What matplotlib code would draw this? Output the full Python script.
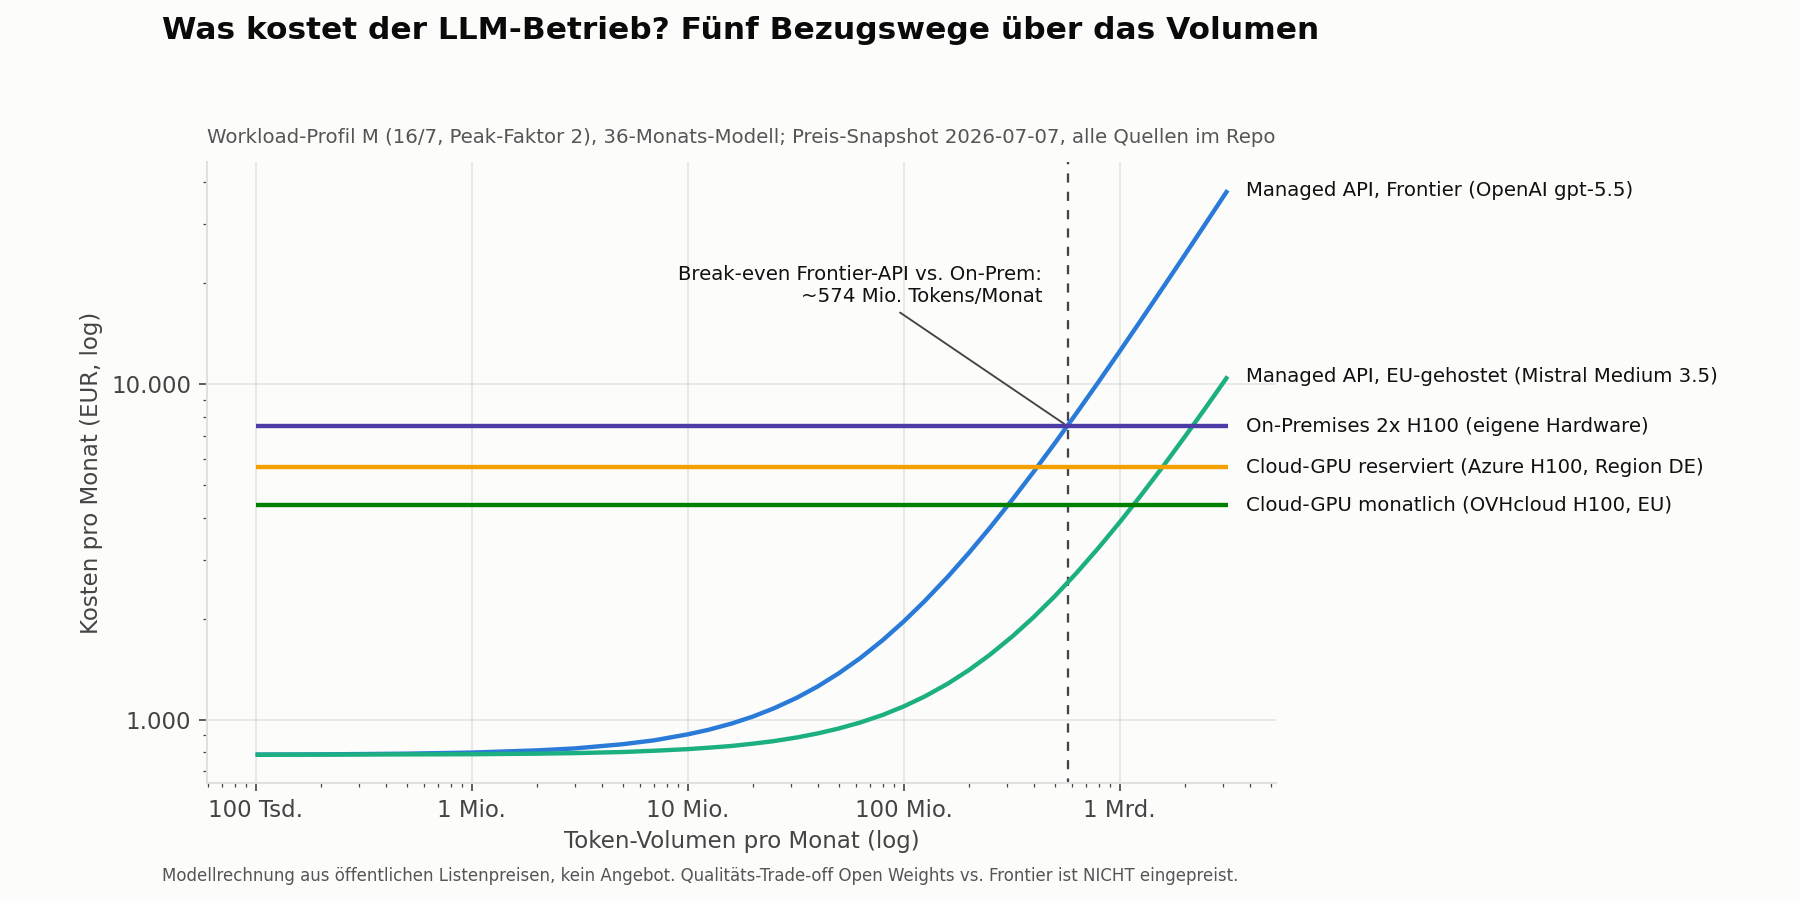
"""Kostenvergleich LLM-Betrieb: fuenf Bezugswege ueber das Token-Volumen."""

import matplotlib

matplotlib.use("Agg")

import matplotlib.pyplot as plt
from matplotlib.ticker import FixedLocator, FuncFormatter, LogLocator, NullFormatter

# Token-Volumen pro Monat in Mio. (Stuetzstellen der Kurven)
volumes_mio = [
    0.1, 0.2, 0.5, 1, 2, 3, 5, 7,
    10, 12.5, 16, 20, 25, 32, 40, 50, 63, 80,
    100, 125, 160, 200, 250, 320, 400, 500, 630, 800,
    1000, 1250, 1600, 2000, 2500, 3160,
]

# Kosten pro Monat in EUR
frontier_api = [
    786, 787, 791, 797, 809, 820, 844, 867,
    903, 932, 973, 1020, 1079, 1161, 1255, 1373, 1525, 1725,
    1960, 2254, 2665, 3135, 3723, 4545, 5485, 6660, 8188, 10185,
    12535, 15473, 19585, 24285, 30160, 37915,
]
mistral_api = [
    785, 786, 787, 788, 791, 794, 800, 807,
    816, 824, 834, 847, 862, 884, 909, 940, 980, 1032,
    1094, 1171, 1279, 1403, 1558, 1774, 2021, 2330, 2732, 3257,
    3875, 4648, 5729, 6965, 8510, 10549,
]
onprem_cost = 7500
azure_cost = 5650
ovh_cost = 4370

break_even_mio = 574

labels = [
    "Managed API, Frontier (OpenAI gpt-5.5)",
    "Managed API, EU-gehostet (Mistral Medium 3.5)",
    "On-Premises 2x H100 (eigene Hardware)",
    "Cloud-GPU reserviert (Azure H100, Region DE)",
    "Cloud-GPU monatlich (OVHcloud H100, EU)",
]
colors = ["#2a7ad8", "#1caf7f", "#4c3ca8", "#f2a100", "#008000"]

x_ticks = [1e5, 1e6, 1e7, 1e8, 1e9]
x_ticklabels = ["100 Tsd.", "1 Mio.", "10 Mio.", "100 Mio.", "1 Mrd."]

BG = "#fcfcfb"


def main() -> None:
    volumes = [v * 1e6 for v in volumes_mio]
    break_even = break_even_mio * 1e6

    fig, ax = plt.subplots(figsize=(12, 6), dpi=150)
    fig.patch.set_facecolor(BG)
    ax.set_facecolor(BG)
    fig.subplots_adjust(left=0.115, right=0.709, top=0.82, bottom=0.13)

    series = [
        frontier_api,
        mistral_api,
        [onprem_cost] * len(volumes),
        [azure_cost] * len(volumes),
        [ovh_cost] * len(volumes),
    ]
    for vals, color, label in zip(series, colors, labels, strict=True):
        ax.plot(volumes, vals, color=color, linewidth=2.1, solid_capstyle="butt", zorder=3)
        ax.annotate(
            label,
            xy=(volumes[-1], vals[-1]),
            xytext=(9, 0),
            textcoords="offset points",
            va="center",
            ha="left",
            fontsize=9.5,
            color="#111111",
            annotation_clip=False,
        )

    ax.set_xscale("log")
    ax.set_yscale("log")

    ax.axvline(break_even, color="#444444", linestyle=(2, (4, 4)), linewidth=1.1, zorder=2)
    ax.annotate(
        "Break-even Frontier-API vs. On-Prem:\n~574 Mio. Tokens/Monat",
        xy=(break_even, onprem_cost),
        xytext=(4.38e8, 19700),
        ha="right",
        va="center",
        fontsize=9.5,
        color="#111111",
        arrowprops=dict(arrowstyle="-", color="#444444", linewidth=0.9),
    )

    ax.xaxis.set_major_locator(FixedLocator(x_ticks))
    ax.set_xticklabels(x_ticklabels)
    ax.xaxis.set_minor_locator(LogLocator(base=10, subs=range(2, 10)))
    ax.xaxis.set_minor_formatter(NullFormatter())
    ax.yaxis.set_major_locator(LogLocator(base=10))
    ax.yaxis.set_major_formatter(
        FuncFormatter(lambda v, _: f"{v:,.0f}".replace(",", "."))
    )
    ax.yaxis.set_minor_locator(LogLocator(base=10, subs=range(2, 10)))
    ax.yaxis.set_minor_formatter(NullFormatter())

    ax.tick_params(axis="both", which="major", labelsize=11, labelcolor="#444444",
                   color="#444444", length=4, width=0.8)
    ax.tick_params(axis="both", which="minor", color="#444444", length=2, width=0.6)

    ax.grid(True, which="major", color="#e4e4e4", linewidth=0.8)
    ax.set_axisbelow(True)
    ax.spines[["top", "right"]].set_visible(False)
    ax.spines[["left", "bottom"]].set_color("#e0e0e0")
    ax.spines[["left", "bottom"]].set_linewidth(1.0)

    ax.set_xlabel("Token-Volumen pro Monat (log)", fontsize=11, color="#444444")
    ax.set_ylabel("Kosten pro Monat (EUR, log)", fontsize=11, color="#444444")
    ax.set_title(
        "Workload-Profil M (16/7, Peak-Faktor 2), 36-Monats-Modell; "
        "Preis-Snapshot 2026-07-07, alle Quellen im Repo",
        loc="left",
        fontsize=9.5,
        color="#555555",
        pad=9,
    )

    fig.text(
        0.09, 0.966,
        "Was kostet der LLM-Betrieb? Fünf Bezugswege über das Volumen",
        fontsize=15, fontweight="bold", ha="left", va="center", color="#0a0a0a",
    )
    fig.text(
        0.09, 0.027,
        "Modellrechnung aus öffentlichen Listenpreisen, kein Angebot. "
        "Qualitäts-Trade-off Open Weights vs. Frontier ist NICHT eingepreist.",
        fontsize=8, ha="left", va="center", color="#555555",
    )

    fig.savefig("out.png", dpi=150, facecolor=BG)
    plt.close(fig)


if __name__ == "__main__":
    main()
